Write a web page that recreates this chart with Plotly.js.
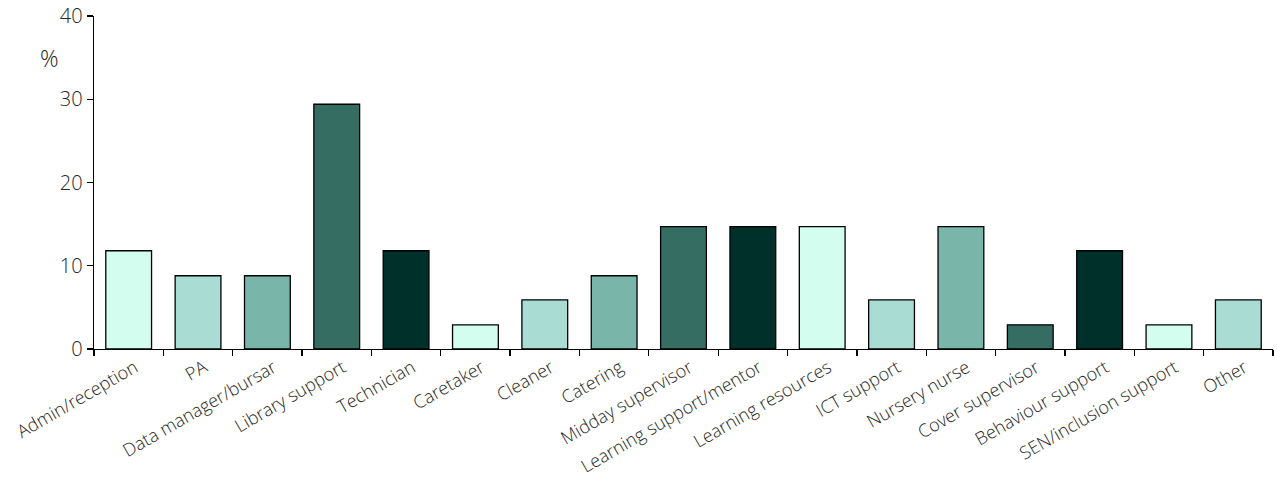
<!DOCTYPE html>
<html>
<head>
<meta charset="utf-8">
<script src="https://cdn.plot.ly/plotly-3.0.1.min.js"></script>
<style>html,body{margin:0;padding:0;background:#fff;}#chart{width:1277px;height:479px;}</style>
</head>
<body>
<div id="chart"></div>
<script>
const categories = ["Admin/reception","PA","Data manager/bursar","Library support","Technician","Caretaker","Cleaner","Catering","Midday supervisor","Learning support/mentor","Learning resources","ICT support","Nursery nurse","Cover supervisor","Behaviour support","SEN/inclusion support","Other"];
const values = [11.8, 8.8, 8.8, 29.4, 11.8, 2.9, 5.9, 8.8, 14.7, 14.7, 14.7, 5.9, 14.7, 2.9, 11.8, 2.9, 5.9];
const palette = ["#d3fdef","#a9dcd3","#7ab5aa","#356d63","#00302a"];
const yTicks = [0, 10, 20, 30, 40];

const colors = categories.map((c, i) => palette[i % palette.length]);
const font = "Open Sans, Noto Sans, sans-serif";
const textColor = "#262626";

Plotly.newPlot("chart", [{
  type: "bar",
  x: categories,
  y: values,
  width: 0.66,
  marker: {color: colors, line: {color: "#000", width: 1.3}},
  hoverinfo: "x+y"
}], {
  width: 1277, height: 479,
  margin: {l: 94, r: 4, t: 16, b: 130},
  paper_bgcolor: "#fff", plot_bgcolor: "#fff",
  showlegend: false,
  font: {family: font, color: textColor, size: 17, weight: 300},
  xaxis: {
    type: "category",
    tickangle: -30,
    tickson: "boundaries",
    ticklabelshift: 6,
    ticks: "outside", ticklen: 6, tickwidth: 1.3, tickcolor: "#000",
    showline: true, linecolor: "#000", linewidth: 1.3,
    showgrid: false, zeroline: false,
    tickfont: {family: font, size: 18, color: textColor, weight: 300}
  },
  yaxis: {
    range: [0, 40],
    tickvals: yTicks,
    ticktext: yTicks.map(String),
    ticks: "outside", ticklen: 6, tickwidth: 1.3, tickcolor: "#000",
    showline: true, linecolor: "#000", linewidth: 1.3,
    showgrid: false, zeroline: false,
    tickfont: {family: font, size: 20, color: textColor, weight: 300}
  },
  annotations: [{
    text: "%", xref: "paper", yref: "paper",
    x: -0.0375, y: 0.875, xanchor: "center", yanchor: "middle",
    showarrow: false, font: {family: font, size: 23, color: textColor, weight: 300}
  }]
}, {displayModeBar: false, staticPlot: true});
</script>
</body>
</html>
